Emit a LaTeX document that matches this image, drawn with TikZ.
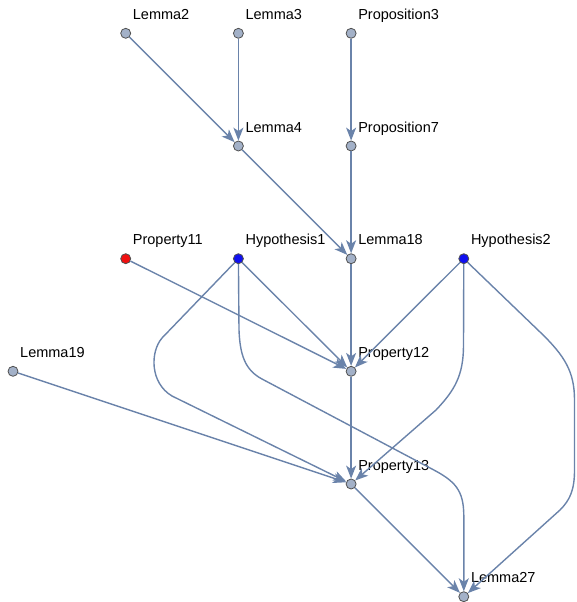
\documentclass[tikz,border=0pt]{standalone}
\usepackage{fontspec}
\setmainfont{Liberation Sans}
\usetikzlibrary{arrows.meta}
\definecolor{edgecol}{RGB}{106,131,170}
\definecolor{vfill}{RGB}{163,177,200}
\definecolor{vborder}{RGB}{80,80,80}
\definecolor{vred}{RGB}{240,16,16}
\definecolor{vblue}{RGB}{16,16,240}
\begin{document}
\begin{tikzpicture}[x=1pt,y=-1pt,
  vert/.style={circle,draw=vborder,fill=vfill,line width=0.8pt,inner sep=0pt,minimum size=10pt},
  lbl/.style={anchor=base west,inner sep=0pt,font=\fontsize{14.5}{16}\selectfont},
  edge/.style={draw=edgecol,line width=1.4pt,-{Stealth[length=13pt,width=10pt,inset=3.5pt]}}]
\useasboundingbox (0,0) rectangle (576,602);
% nodes
\node[vert] (L2) at (125.7,33.3) {};
\node[vert] (L3) at (238.4,33.3) {};
\node[vert] (P3) at (351.1,33.3) {};
\node[vert] (L4) at (238.4,146) {};
\node[vert] (P7) at (351.1,146) {};
\node[vert,fill=vred] (P11) at (125.7,258.7) {};
\node[vert,fill=vblue] (H1) at (238.4,258.7) {};
\node[vert] (L18) at (351.1,258.7) {};
\node[vert,fill=vblue] (H2) at (463.8,258.7) {};
\node[vert] (L19) at (13,371.3) {};
\node[vert] (P12) at (351.1,371.3) {};
\node[vert] (P13) at (351.1,484) {};
\node[vert] (L27) at (463.8,596.7) {};
% labels
\foreach \n/\t in {L2/Lemma2,L3/Lemma3,P3/Proposition3,L4/Lemma4,P7/Proposition7,
  P11/Property11,H1/Hypothesis1,L18/Lemma18,H2/Hypothesis2,L19/Lemma19,
  P12/Property12,P13/Property13,L27/Lemma27}
  \node[lbl] (\n-lab) at ([xshift=7pt,yshift=14pt]\n.center) {\t};
% straight edges
\draw[edge] (L2) -- (L4);
\draw[edge] (L3) -- (L4);
\draw[edge] (P3) -- (P7);
\draw[edge] (L4) -- (L18);
\draw[edge] (P7) -- (L18);
\draw[edge] (L18) -- (P12);
\draw[edge] (P11) -- (P12);
\draw[edge] (H1) -- (P12);
\draw[edge] (H2) -- (P12);
\draw[edge] (P12) -- (P13);
\draw[edge] (L19) -- (P13);
\draw[edge] (P13) -- (L27);
% routed edges
\coordinate (a1) at (162,338);
\coordinate (a2) at (172,396);
\draw[edge] (H1) -- (a1) .. controls (150,352) and (150,383) .. (a2) -- (P13);
\coordinate (b1) at (239,330);
\coordinate (b2) at (262,379);
\coordinate (b3) at (432,469);
\coordinate (b4) at (463.8,515);
\draw[edge] (H1) -- (b1) .. controls (240,355) and (245,370) .. (b2) -- (b3)
  .. controls (455,481) and (463.5,490) .. (b4) -- (L27);
\coordinate (c1) at (463.5,345);
\coordinate (c2) at (436,410);
\draw[edge] (H2) -- (c1) .. controls (463.5,375) and (455,390) .. (c2) -- (P13);
\coordinate (d1) at (540,332);
\coordinate (d2) at (574.5,400);
\coordinate (d3) at (574.5,470);
\coordinate (d4) at (560,510);
\draw[edge] (H2) -- (d1) .. controls (565,356) and (574.5,372) .. (d2) -- (d3)
  .. controls (574.5,490) and (570,500) .. (d4) -- (L27);
\end{tikzpicture}
\end{document}
